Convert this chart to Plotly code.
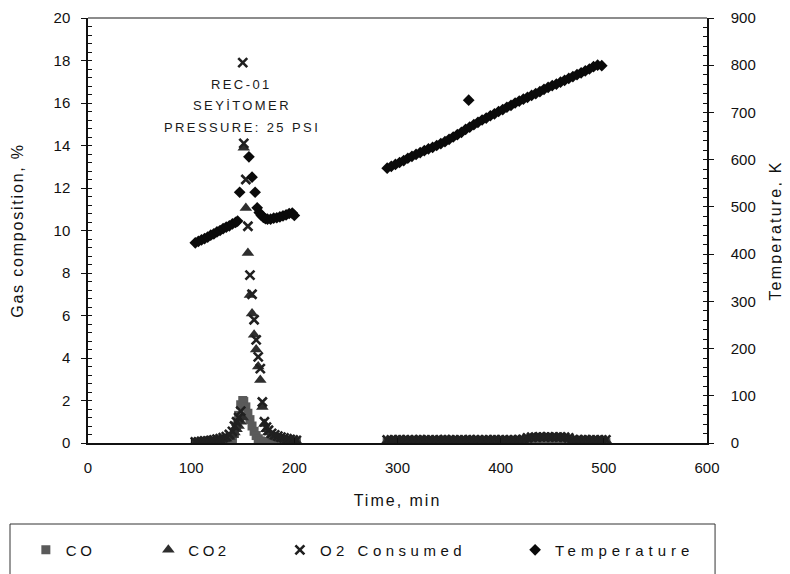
import plotly.graph_objects as go

# ---------------- data ----------------
time_gas_1 = [104, 107, 110, 113, 116, 119, 122, 125, 128, 131,
              134, 137, 140, 142, 144, 146, 148, 150, 151, 153,
              155, 157, 159, 161, 163, 165, 167, 169, 171, 173,
              175, 178, 181, 184, 187, 190, 193, 196, 199, 202]
co_1 = [0.02, 0.02, 0.02, 0.02, 0.02, 0.03, 0.03, 0.03, 0.04, 0.05,
        0.06, 0.08, 0.20, 0.45, 0.80, 1.30, 1.80, 2.00, 1.95, 1.70,
        1.40, 1.10, 0.80, 0.55, 0.35, 0.20, 0.10, 0.06, 0.04, 0.03,
        0.03, 0.02, 0.02, 0.02, 0.02, 0.02, 0.02, 0.02, 0.02, 0.02]
co2_1 = [0.03, 0.04, 0.05, 0.06, 0.07, 0.08, 0.10, 0.12, 0.14, 0.17,
         0.20, 0.28, 0.38, 0.50, 0.65, 0.80, 1.00, 1.20, 13.9, 11.06,
         8.94, 6.96, 6.10, 5.10, 4.40, 3.60, 2.96, 1.70, 0.90, 0.65,
         0.50, 0.38, 0.30, 0.25, 0.20, 0.17, 0.14, 0.12, 0.10, 0.08]
o2_1 = [0.05, 0.05, 0.08, 0.10, 0.10, 0.12, 0.15, 0.18, 0.20, 0.25,
        0.30, 0.40, 0.55, 0.80, 1.00, 1.20, 1.50, 17.9, 14.1, 12.4,
        10.2, 7.9, 7.0, 5.8, 4.85, 4.05, 3.5, 1.93, 1.0, 0.75,
        0.60, 0.45, 0.38, 0.32, 0.28, 0.24, 0.20, 0.17, 0.14, 0.12]

time_gas_2 = [290, 294, 298, 302, 306, 310, 314, 318, 322, 326,
              330, 334, 338, 342, 346, 350, 354, 358, 362, 366,
              370, 374, 378, 382, 386, 390, 394, 398, 402, 406,
              410, 414, 418, 422, 426, 430, 434, 438, 442, 446,
              450, 454, 458, 462, 466, 470, 474, 478, 482, 486,
              490, 494, 498, 502]
co_2 = [0.02, 0.02, 0.03, 0.02, 0.02, 0.02, 0.03, 0.02, 0.02, 0.02,
        0.02, 0.03, 0.02, 0.02, 0.02, 0.02, 0.03, 0.02, 0.02, 0.05,
        0.06, 0.05, 0.05, 0.03, 0.02, 0.02, 0.02, 0.03, 0.02, 0.02,
        0.02, 0.02, 0.03, 0.02, 0.04, 0.06, 0.09, 0.10, 0.09, 0.10,
        0.09, 0.10, 0.09, 0.08, 0.04, 0.03, 0.02, 0.02, 0.02, 0.03,
        0.02, 0.02, 0.02, 0.02]
co2_2 = [0.10, 0.11, 0.10, 0.12, 0.11, 0.10, 0.11, 0.12, 0.11, 0.10,
         0.11, 0.12, 0.11, 0.10, 0.11, 0.12, 0.11, 0.10, 0.11, 0.12,
         0.11, 0.10, 0.12, 0.11, 0.11, 0.10, 0.12, 0.11, 0.10, 0.11,
         0.12, 0.11, 0.12, 0.14, 0.20, 0.23, 0.24, 0.25, 0.24, 0.25,
         0.24, 0.25, 0.24, 0.23, 0.20, 0.13, 0.11, 0.12, 0.11, 0.10,
         0.11, 0.12, 0.11, 0.12]
o2_2 = [0.14, 0.15, 0.15, 0.16, 0.15, 0.15, 0.14, 0.15, 0.16, 0.15,
        0.15, 0.14, 0.15, 0.15, 0.16, 0.15, 0.15, 0.14, 0.15, 0.15,
        0.16, 0.15, 0.15, 0.14, 0.15, 0.15, 0.16, 0.15, 0.15, 0.14,
        0.15, 0.15, 0.16, 0.17, 0.24, 0.27, 0.28, 0.29, 0.28, 0.29,
        0.28, 0.28, 0.29, 0.27, 0.24, 0.16, 0.15, 0.15, 0.16, 0.15,
        0.15, 0.14, 0.15, 0.15]

time_temp_1 = [104, 107, 110, 113, 116, 119, 122, 125, 128, 131,
               134, 137, 140, 143, 145, 147, 156, 159, 162, 164,
               166, 168, 170, 172, 174, 177, 180, 183, 186, 189,
               192, 195, 198, 200]
temp_1 = [424, 427, 430, 433, 436, 440, 443, 447, 450, 454,
          457, 460, 464, 467, 470, 531, 606, 563, 531, 498,
          488, 482, 478, 475, 474, 474, 476, 477, 479, 481,
          483, 486, 487, 482]

time_temp_2 = [290, 294, 298, 302, 306, 310, 314, 318, 322, 326,
               330, 334, 338, 342, 346, 350, 354, 358, 362, 366,
               370, 374, 378, 382, 386, 390, 394, 398, 402, 406,
               410, 414, 418, 422, 426, 430, 434, 438, 442, 446,
               450, 454, 458, 462, 466, 470, 474, 478, 482, 486,
               490, 494, 498, 369]
temp_2 = [582, 586, 590, 594, 598, 603, 607, 611, 615, 619,
          623, 626, 630, 634, 638, 643, 648, 653, 658, 664,
          669, 674, 679, 684, 688, 693, 697, 702, 706, 711,
          715, 720, 724, 728, 732, 736, 740, 744, 749, 753,
          757, 760, 764, 768, 772, 776, 780, 784, 788, 792,
          797, 800, 799, 726]

series_names = ["CO", "CO2", "O2 Consumed", "Temperature"]
x_ticks = [0, 100, 200, 300, 400, 500, 600]
annotation_lines = ["REC-01", "SEYİTOMER", "PRESSURE: 25 PSI"]

# ---------------- figure ----------------
FONT = "Liberation Sans, Arial, sans-serif"


def spaced(txt, px):
    return f'<span style="letter-spacing:{px}px">{txt}</span>'


time_gas = time_gas_1 + time_gas_2
co = co_1 + co_2
co2 = co2_1 + co2_2
o2 = o2_1 + o2_2
time_temp = time_temp_1 + time_temp_2
temp = temp_1 + temp_2

fig = go.Figure()
fig.add_trace(go.Scatter(
    x=time_gas, y=co, mode="markers", name=spaced(series_names[0], 3.5),
    marker=dict(symbol="square", size=9, color="#5a5a5a"),
    legend="legend"))
fig.add_trace(go.Scatter(
    x=time_gas, y=co2, mode="markers", name=spaced(series_names[1], 3.5),
    marker=dict(symbol="triangle-up", size=11, color="#2e2e2e"),
    legend="legend2"))
fig.add_trace(go.Scatter(
    x=time_gas, y=o2, mode="markers", name=spaced(series_names[2], 4.5),
    marker=dict(symbol="x-thin", size=9, color="#202020",
                line=dict(width=2.6, color="#202020")),
    legend="legend3"))
fig.add_trace(go.Scatter(
    x=time_temp, y=temp, mode="markers", name=spaced(series_names[3], 5),
    marker=dict(symbol="diamond", size=9, color="#0a0a0a"),
    yaxis="y2", legend="legend4"))

ann_y = [16.85, 15.86, 14.87]
for line, yy in zip(annotation_lines, ann_y):
    fig.add_annotation(x=149, y=yy, xref="x", yref="y",
                       text=spaced(line, 2.4), showarrow=False,
                       font=dict(family=FONT, size=13, color="#1a1a1a"))

legend_common = dict(orientation="h", yanchor="middle", y=-0.252,
                     xanchor="left", bgcolor="rgba(0,0,0,0)",
                     font=dict(family=FONT, size=15, color="#111"),
                     itemwidth=30)
fig.update_layout(
    width=790, height=574,
    margin=dict(l=80, r=91, t=10, b=139, autoexpand=False),
    paper_bgcolor="white", plot_bgcolor="white",
    font=dict(family=FONT, size=15, color="#111"),
    showlegend=True,
    legend=dict(x=-0.1004, **legend_common),
    legend2=dict(x=0.0975, **legend_common),
    legend3=dict(x=0.310, **legend_common),
    legend4=dict(x=0.690, **legend_common),
    xaxis=dict(range=[0, 600], tickvals=x_ticks, showgrid=False, zeroline=False,
               automargin=False,
               showline=True, linecolor="#111", linewidth=1.5,
               ticks="inside", ticklen=5, tickcolor="#111",
               tickfont=dict(family=FONT, size=15, color="#111"),
               ticklabelstandoff=10,
               title=dict(text=spaced("Time, min", 2), standoff=20,
                          font=dict(family=FONT, size=16, color="#111"))),
    yaxis=dict(range=[0, 20], dtick=2, showgrid=False, zeroline=False,
               automargin=False,
               showline=True, linecolor="#111", linewidth=1.5,
               ticks="outside", ticklen=5, tickcolor="#111",
               minor=dict(dtick=0.4, ticks="inside", ticklen=4, tickcolor="#111"),
               tickfont=dict(family=FONT, size=15, color="#111"),
               ticklabelstandoff=8,
               title=dict(text=spaced("Gas composition, %", 1.8), standoff=26,
                          font=dict(family=FONT, size=16, color="#111"))),
    yaxis2=dict(range=[0, 900], dtick=100, overlaying="y", side="right",
                showgrid=False, zeroline=False, automargin=False,
                showline=True, linecolor="#111", linewidth=1.5,
                ticks="outside", ticklen=5, tickcolor="#111",
                minor=dict(dtick=20, ticks="inside", ticklen=4, tickcolor="#111"),
                tickfont=dict(family=FONT, size=15, color="#111"),
                ticklabelstandoff=14,
                title=dict(text=spaced("Temperature, K", 2.2), standoff=15,
                           font=dict(family=FONT, size=16, color="#111"))),
    shapes=[
        dict(type="line", xref="paper", yref="paper", x0=0, x1=1, y0=1, y1=1,
             line=dict(color="#8c8c8c", width=2)),
        dict(type="rect", xref="paper", yref="paper",
             x0=-0.126, x1=1.013, y0=-0.1906, y1=-0.33,
             line=dict(color="#333", width=1), fillcolor="rgba(0,0,0,0)"),
    ],
)

fig.write_html("out.html")
